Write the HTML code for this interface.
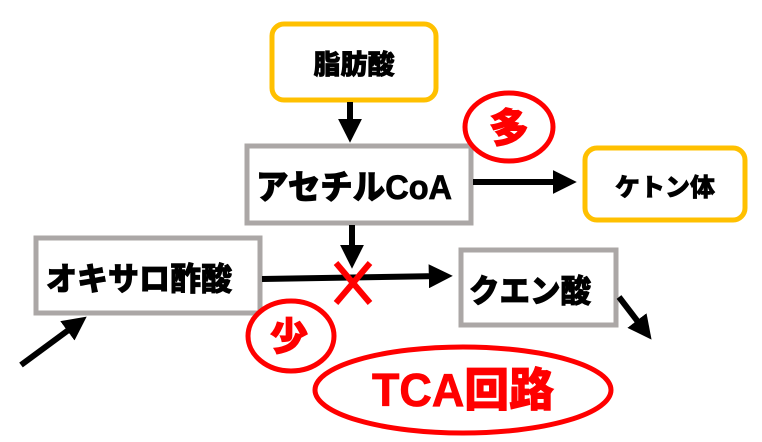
<!DOCTYPE html>
<html><head><meta charset="utf-8"><style>
html,body{margin:0;padding:0;background:#fff;}
svg{display:block;}
text{font-family:"Liberation Sans","Noto Sans CJK JP",sans-serif;font-weight:900;}
</style></head><body>
<svg width="762" height="442" viewBox="0 0 762 442" xmlns="http://www.w3.org/2000/svg">
<defs>
<marker id="ah" markerWidth="4" markerHeight="4" refX="2.2" refY="2" orient="auto" markerUnits="strokeWidth">
<path d="M0,0 L4,2 L0,4 z" fill="#000"/></marker>
</defs>
<rect x="272" y="24" width="164" height="76" rx="12" fill="#fff" stroke="#FFC000" stroke-width="5"/>
<text x="354" y="74" font-size="27" text-anchor="middle" stroke="#000" stroke-width="0.8">脂肪酸</text>
<rect x="247" y="146" width="224" height="77" fill="#fff" stroke="#ABA7A6" stroke-width="5"/>
<text x="256" y="199" font-size="34" textLength="196" lengthAdjust="spacingAndGlyphs" stroke="#000" stroke-width="0.8">アセチルCoA</text>
<rect x="585" y="148" width="160" height="72" rx="12" fill="#fff" stroke="#FFC000" stroke-width="5"/>
<text x="665" y="196" font-size="25" text-anchor="middle" stroke="#000" stroke-width="0.6">ケトン体</text>
<rect x="36" y="238" width="224" height="75" fill="#fff" stroke="#ABA7A6" stroke-width="5"/>
<text x="46" y="290" font-size="32" textLength="186" lengthAdjust="spacingAndGlyphs" stroke="#000" stroke-width="0.8">オキサロ酢酸</text>
<rect x="461" y="250" width="155" height="75" fill="#fff" stroke="#ABA7A6" stroke-width="5"/>
<text x="469" y="302" font-size="32" textLength="122" lengthAdjust="spacingAndGlyphs" stroke="#000" stroke-width="0.8">クエン酸</text>
<line x1="350" y1="102" x2="350" y2="132" stroke="#000" stroke-width="6" marker-end="url(#ah)"/>
<line x1="473" y1="182" x2="566" y2="182" stroke="#000" stroke-width="6" marker-end="url(#ah)"/>
<line x1="352" y1="225" x2="352" y2="258" stroke="#000" stroke-width="6" marker-end="url(#ah)"/>
<line x1="262" y1="279" x2="442" y2="276" stroke="#000" stroke-width="6" marker-end="url(#ah)"/>
<line x1="21" y1="365" x2="78" y2="323" stroke="#000" stroke-width="6" marker-end="url(#ah)"/>
<line x1="619" y1="297" x2="645" y2="331" stroke="#000" stroke-width="6" marker-end="url(#ah)"/>
<line x1="336" y1="263" x2="370" y2="303" stroke="#FF0000" stroke-width="6"/>
<line x1="370" y1="263" x2="336" y2="303" stroke="#FF0000" stroke-width="6"/>
<ellipse cx="509" cy="127" rx="44" ry="34" fill="#fff" stroke="#FF0000" stroke-width="5"/>
<text x="509" y="142" font-size="40" fill="#FF0000" text-anchor="middle" stroke="#FF0000" stroke-width="1">多</text>
<ellipse cx="291" cy="336" rx="43" ry="35" fill="#fff" stroke="#FF0000" stroke-width="5"/>
<text x="289" y="350" font-size="38" fill="#FF0000" text-anchor="middle" stroke="#FF0000" stroke-width="1">少</text>
<ellipse cx="463" cy="390" rx="148" ry="43" fill="#fff" stroke="#FF0000" stroke-width="5"/>
<text x="463" y="406" font-size="46" fill="#FF0000" text-anchor="middle" textLength="182" lengthAdjust="spacingAndGlyphs" stroke="#FF0000" stroke-width="0.8">TCA回路</text>
</svg>
</body></html>
